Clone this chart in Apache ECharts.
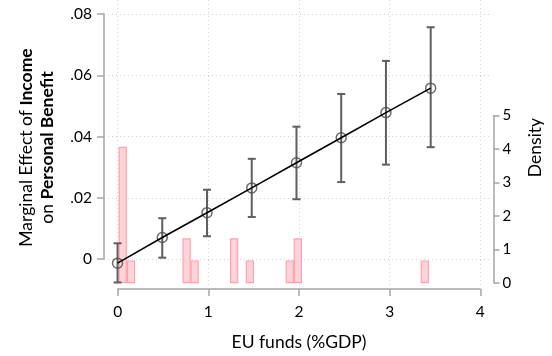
<!DOCTYPE html>
<html>
<head>
<meta charset="utf-8">
<script src="https://cdn.jsdelivr.net/npm/echarts@6/dist/echarts.min.js"></script>
<style>
  html, body { margin: 0; padding: 0; background: #fff; }
  #chart { width: 552px; height: 356px; }
</style>
</head>
<body>
<div id="chart"></div>
<script>
// EU funds (% of GDP) at which the marginal effect is evaluated
const evalPoints = [0, 0.5, 1, 1.5, 2, 2.5, 3, 3.5];
// Marginal effect of income on personal benefit, with 95% CI bounds
const marginalEffect = [-0.0014, 0.0070, 0.0151, 0.0232, 0.0314, 0.0396, 0.0478, 0.0558];
const ciLower = [-0.0077, 0.0004, 0.0074, 0.0137, 0.0195, 0.0251, 0.0308, 0.0365];
const ciUpper = [0.0051, 0.0133, 0.0226, 0.0327, 0.0432, 0.0539, 0.0647, 0.0757];

// Histogram of EU funds (density), bin centres and heights
const binCenters = [0.058, 0.150, 0.772, 0.862, 1.303, 1.479, 1.926, 2.015, 3.434];
const binDensity = [4.05, 0.65, 1.31, 0.65, 1.31, 0.65, 0.65, 1.31, 0.65];
const binWidth = 0.0905;

// Axis ticks and their labels
const xTicks = [0, 1, 2, 3, 4];
const xTickLabels = ['0', '1', '2', '3', '4'];
const meTicks = [0, 0.02, 0.04, 0.06, 0.08];
const meTickLabels = ['0', '.02', '.04', '.06', '.08'];
const densityTicks = [0, 1, 2, 3, 4, 5];
const densityTickLabels = ['0', '1', '2', '3', '4', '5'];

const FONT = 'Lato';
const AXIS_GREY = '#a6a6a6';
const GRID_GREY = '#d4d4d4';

function lookup(ticks, labels) {
  return function (v) {
    for (let i = 0; i < ticks.length; i++) {
      if (Math.abs(ticks[i] - v) < 1e-9) return labels[i];
    }
    return '';
  };
}

const chart = echarts.init(document.getElementById('chart'), null, { renderer: 'canvas' });

const hidden = (gridIndex) => ({ type: 'value', gridIndex, min: 0, max: 1, show: false });

const option = {
  animation: false,
  backgroundColor: '#fff',
  textStyle: { fontFamily: FONT },
  grid: [
    // plot region
    { left: 106, right: 62, top: 0, bottom: 61 },
    // left value axis (ticks span 0 .. .08)
    { left: 104, right: 62, top: 14, bottom: 97 },
    // x axis (ticks span 0 .. 4)
    { left: 117.7, right: 71.7, top: 0, bottom: 63 },
    // right density axis (ticks span 0 .. 5)
    { left: 300, right: 58.5, top: 115.5, bottom: 73.3 }
  ],
  xAxis: [
    { type: 'value', gridIndex: 0, min: -0.129, max: 4.107, show: false },
    hidden(1),
    {
      type: 'value', gridIndex: 2, min: 0, max: 4, interval: 1,
      offset: 4,
      axisLine: { show: true, onZero: false, lineStyle: { color: AXIS_GREY, width: 1.5 } },
      axisTick: { show: true, inside: false, length: 7, lineStyle: { color: AXIS_GREY, width: 1.5 } },
      axisLabel: {
        margin: 15, color: '#000', fontFamily: FONT, fontSize: 15.5,
        formatter: lookup(xTicks, xTickLabels)
      },
      splitLine: { show: true, lineStyle: { color: GRID_GREY, type: [1, 3], width: 1 } },
      name: 'EU funds (%GDP)',
      nameLocation: 'middle',
      nameGap: 44,
      nameTextStyle: { color: '#000', fontFamily: FONT, fontSize: 17.5 }
    },
    hidden(3)
  ],
  yAxis: [
    {
      type: 'value', gridIndex: 0, min: -0.0118, max: 0.0846,
      axisLine: { show: false }, axisTick: { show: false },
      axisLabel: { show: false }, splitLine: { show: false },
      name: '{r|Marginal Effect of }{b|Income}\n{r|on }{b|Personal Benefit}',
      nameLocation: 'middle',
      nameRotate: 90,
      nameGap: 48,
      nameTextStyle: {
        color: '#000', fontFamily: FONT, fontSize: 17.5, lineHeight: 21,
        rich: {
          r: { color: '#000', fontFamily: FONT, fontSize: 17.5, lineHeight: 21 },
          b: { color: '#000', fontFamily: FONT, fontSize: 17.5, fontWeight: 'bold', lineHeight: 21 }
        }
      }
    },
    {
      type: 'value', gridIndex: 0, position: 'right', min: -0.368, max: 8.464,
      axisLine: { show: false }, axisTick: { show: false },
      axisLabel: { show: false }, splitLine: { show: false },
      name: 'Density',
      nameLocation: 'middle',
      nameRotate: 90,
      nameGap: 41,
      nameTextStyle: { color: '#000', fontFamily: FONT, fontSize: 17.5 }
    },
    {
      type: 'value', gridIndex: 1, position: 'left', min: 0, max: 0.08, interval: 0.02,
      axisLine: { show: true, onZero: false, lineStyle: { color: AXIS_GREY, width: 1.5 } },
      axisTick: { show: true, inside: false, length: 7, lineStyle: { color: AXIS_GREY, width: 1.5 } },
      axisLabel: {
        margin: 12, color: '#000', fontFamily: FONT, fontSize: 15.5,
        formatter: lookup(meTicks, meTickLabels)
      },
      splitLine: { show: true, lineStyle: { color: GRID_GREY, type: [1, 3], width: 1 } }
    },
    hidden(2),
    {
      type: 'value', gridIndex: 3, position: 'right', min: 0, max: 5, interval: 1,
      axisLine: { show: true, onZero: false, lineStyle: { color: AXIS_GREY, width: 1.5 } },
      axisTick: { show: true, inside: false, length: 6, lineStyle: { color: AXIS_GREY, width: 1.5 } },
      axisLabel: {
        margin: 9, color: '#000', fontFamily: FONT, fontSize: 15,
        formatter: lookup(densityTicks, densityTickLabels)
      },
      splitLine: { show: false }
    }
  ],
  series: [
    {
      // histogram of EU funds on the density scale
      type: 'custom',
      xAxisIndex: 0, yAxisIndex: 1,
      clip: false,
      data: binCenters.map((c, i) => [c, binDensity[i]]),
      renderItem: function (params, api) {
        const c = api.value(0), h = api.value(1);
        const p0 = api.coord([c - binWidth / 2, h]);
        const p1 = api.coord([c + binWidth / 2, 0]);
        return {
          type: 'rect',
          shape: { x: p0[0] + 0.5, y: p0[1], width: p1[0] - p0[0] - 1, height: p1[1] - p0[1] },
          style: { fill: '#ffd3d9', stroke: '#ffa2ad', lineWidth: 1.2 }
        };
      }
    },
    {
      // confidence intervals
      type: 'custom',
      xAxisIndex: 0, yAxisIndex: 0,
      clip: false,
      data: evalPoints.map((x, i) => [x, ciLower[i], ciUpper[i]]),
      renderItem: function (params, api) {
        const lo = api.coord([api.value(0), api.value(1)]);
        const hi = api.coord([api.value(0), api.value(2)]);
        const cap = 4;
        const style = { stroke: '#5f5f5f', lineWidth: 2, fill: null };
        return {
          type: 'group',
          children: [
            { type: 'line', shape: { x1: lo[0], y1: lo[1], x2: hi[0], y2: hi[1] }, style },
            { type: 'line', shape: { x1: lo[0] - cap, y1: lo[1], x2: lo[0] + cap, y2: lo[1] }, style },
            { type: 'line', shape: { x1: hi[0] - cap, y1: hi[1], x2: hi[0] + cap, y2: hi[1] }, style }
          ]
        };
      }
    },
    {
      // marginal effect line
      type: 'line',
      xAxisIndex: 0, yAxisIndex: 0,
      clip: false,
      data: evalPoints.map((x, i) => [x, marginalEffect[i]]),
      showSymbol: false,
      symbol: 'none',
      lineStyle: { color: '#000', width: 1.6 }
    },
    {
      // hollow point markers
      type: 'scatter',
      xAxisIndex: 0, yAxisIndex: 0,
      clip: false,
      data: evalPoints.map((x, i) => [x, marginalEffect[i]]),
      symbol: 'circle',
      symbolSize: 10,
      itemStyle: { color: 'rgba(0,0,0,0)', borderColor: '#4a4a4a', borderWidth: 1.5 }
    }
  ]
};

chart.setOption(option);
</script>
</body>
</html>
